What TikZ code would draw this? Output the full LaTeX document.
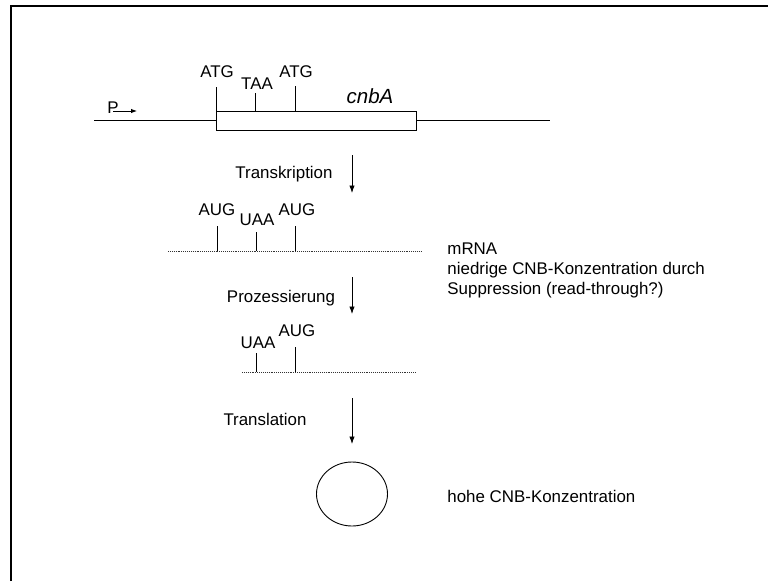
\documentclass[tikz,border=0pt]{standalone}
\usepackage{fontspec}
\setmainfont{Liberation Sans}
\usetikzlibrary{arrows.meta,shapes.geometric,positioning}

\begin{document}
\begin{tikzpicture}[x=1pt, y=-1pt, line width=0.9pt,
    font=\fontsize{16.9}{20}\selectfont,
    txt/.style={anchor=base, inner sep=0pt},
    txtl/.style={anchor=base west, inner sep=0pt},
    flow/.style={-{Latex[length=7.5pt,width=5.5pt]}},
    rna/.style={densely dotted, line width=0.9pt, black!80}]
        \useasboundingbox (0,0) rectangle (768,581);
        \draw[line width=2pt] (11,581) -- (11,6) -- (768,6);
        % Gen
        \node[txtl] (prom) at (107,113) {P};
        \coordinate (pa) at (113,111);
        \coordinate (pb) at (137,111);
        \draw[-{Latex[length=6pt,width=4.5pt]}] (pa) -- (pb);
        \coordinate (dnaL) at (94,120);
        \coordinate (dnaR) at (550,120);
        \draw (dnaL) -- (216,120);
        \draw (216,111) rectangle (416,130);
        \draw (416,120) -- (dnaR);
        \draw (216,111) -- (216,87);
        \draw (255,111) -- (255,93);
        \draw (295,111) -- (295,86);
        \node[txt] (atg1) at (217,77) {ATG};
        \node[txt] (taa) at (257,89) {TAA};
        \node[txt] (atg2) at (296,77) {ATG};
        \node[txt] (gene) at (370,103) {\fontsize{20.5}{24}\selectfont\itshape cnbA};
        % Transkription
        \node[txt] (trk) at (284,178) {Transkription};
        \coordinate (a1) at (352,155);
        \coordinate (b1) at (352,193);
        \draw[flow] (a1) -- (b1);
        % mRNA
        \draw[rna] (168,251) -- (421,251);
        \draw (217,251) -- (217,226);
        \draw (256,251) -- (256,232);
        \draw (295,251) -- (295,226);
        \node[txt] (aug1) at (217,215) {AUG};
        \node[txt] (uaa1) at (257,225) {UAA};
        \node[txt] (aug2) at (297,215) {AUG};
        \node[txtl] (mrna) at (447,254) {mRNA};
        \node[txtl] (low1) at (447,274) {niedrige CNB-Konzentration durch};
        \node[txtl] (low2) at (447,294) {Suppression (read-through?)};
        % Prozessierung
        \node[txt] (proz) at (281,302) {Prozessierung};
        \coordinate (a2) at (352,277);
        \coordinate (b2) at (352,314);
        \draw[flow] (a2) -- (b2);
        \draw[rna] (242,372) -- (416,372);
        \draw (256,372) -- (256,353);
        \draw (295,372) -- (295,347);
        \node[txt] (uaa2) at (258,348) {UAA};
        \node[txt] (aug3) at (297,336) {AUG};
        % Translation
        \node[txt] (trl) at (265,425) {Translation};
        \coordinate (a3) at (352,398);
        \coordinate (b3) at (352,444);
        \draw[flow] (a3) -- (b3);
        \node[draw, ellipse, inner sep=0pt, minimum width=71, minimum height=64] (cnb) at (352,494) {};
        \node[txtl] (high) at (447,502) {hohe CNB-Konzentration};
\end{tikzpicture}
\end{document}
